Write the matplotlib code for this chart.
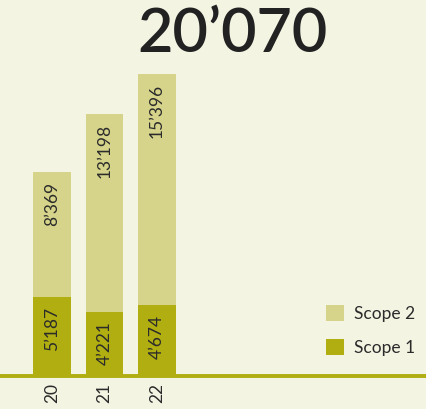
import matplotlib
matplotlib.use("Agg")
import matplotlib.pyplot as plt
from matplotlib.patches import Patch

# ================= DATOS =================
years = ["20", "21", "22"]
scope1 = [5187, 4221, 4674]
scope2 = [8369, 13198, 15396]
total_label = "20\u2019070"

BG = "#f4f4e3"
C_S1 = "#b0ae10"
C_S2 = "#d5d48a"
TXT = "#2b2b2b"


def fmt(v):
    return f"{v:,}".replace(",", "\u2019")


plt.rcParams["font.family"] = ["Lato", "DejaVu Sans"]

W, H, DPI = 427, 409, 100
fig = plt.figure(figsize=(W / DPI, H / DPI), dpi=DPI, facecolor=BG)
base_px = 34
ax = fig.add_axes([0, base_px / H, 1, 1 - base_px / H], facecolor=BG)

x = list(range(len(years)))
ax.bar(x, scope1, width=0.72, color=C_S1, zorder=2)
ax.bar(x, scope2, width=0.72, bottom=scope1, color=C_S2, zorder=2)

ax.set_xlim(-0.99, 7.14)
ax.set_ylim(0, 25000)

# etiquetas dentro de las barras (ancladas arriba del segmento)
for i in x:
    top1 = scope1[i]
    top2 = scope1[i] + scope2[i]
    for top, val in ((top1, scope1[i]), (top2, scope2[i])):
        ax.annotate(fmt(val), (i, top), xytext=(0, -7), textcoords="offset points",
                    rotation=90, ha="center", va="top", fontsize=12.5, color=TXT,
                    zorder=3)

for s in ("top", "left", "right"):
    ax.spines[s].set_visible(False)
ax.spines["bottom"].set_color(C_S1)
ax.spines["bottom"].set_linewidth(2.8)
ax.spines["bottom"].set_position(("outward", 1.0))
ax.set_yticks([])
ax.set_xticks(x)
ax.set_xticklabels(years, rotation=90, fontsize=12.5, color=TXT)
ax.tick_params(axis="x", length=0, pad=5)

handles = [Patch(facecolor=C_S2, label="Scope 2"), Patch(facecolor=C_S1, label="Scope 1")]
leg = ax.legend(handles=handles, loc="lower right", bbox_to_anchor=(1.008, 0.01),
                frameon=False, fontsize=12.5, handlelength=1.05, handleheight=1.05,
                handletextpad=0.55, labelspacing=0.95, labelcolor=TXT)

fig.text(233 / W, 1 - 34 / H, total_label, ha="center", va="center",
         fontsize=44, fontweight="semibold", color="#222222")

fig.savefig("out.png", dpi=DPI, facecolor=BG)
